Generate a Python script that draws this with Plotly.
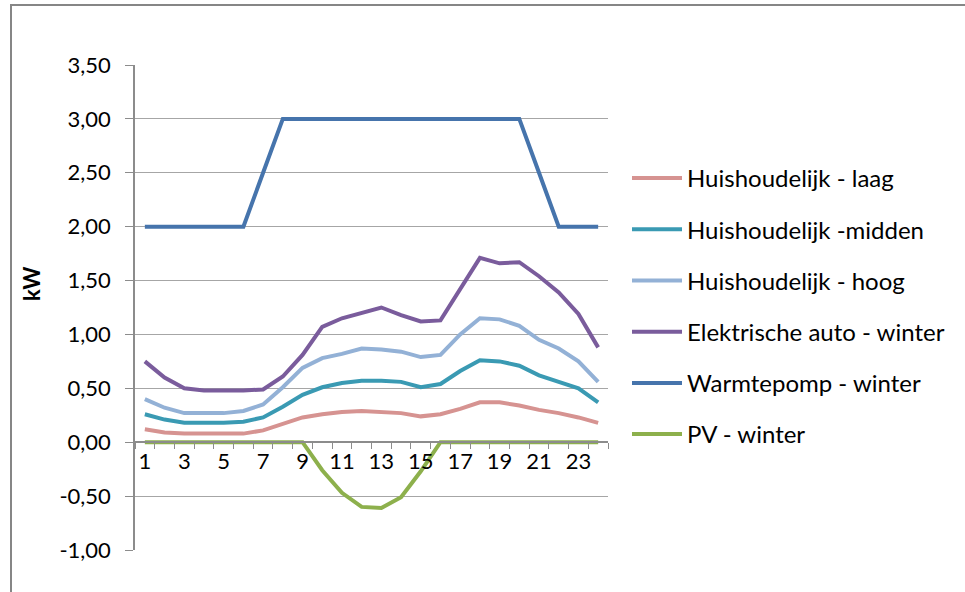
import plotly.graph_objects as go

hours = list(range(1, 25))

laag = [0.12, 0.09, 0.08, 0.08, 0.08, 0.08, 0.11, 0.17, 0.23, 0.26, 0.28, 0.29, 0.28, 0.27, 0.24, 0.26,
        0.31, 0.37, 0.37, 0.34, 0.30, 0.27, 0.23, 0.18]
midden = [0.26, 0.21, 0.18, 0.18, 0.18, 0.19, 0.23, 0.33, 0.44, 0.51, 0.55, 0.57, 0.57, 0.56, 0.51, 0.54,
          0.66, 0.76, 0.75, 0.71, 0.62, 0.56, 0.50, 0.37]
hoog = [0.40, 0.32, 0.27, 0.27, 0.27, 0.29, 0.35, 0.51, 0.69, 0.78, 0.82, 0.87, 0.86, 0.84, 0.79, 0.81,
        1.00, 1.15, 1.14, 1.08, 0.95, 0.87, 0.75, 0.56]
auto = [0.75, 0.60, 0.50, 0.48, 0.48, 0.48, 0.49, 0.61, 0.81, 1.07, 1.15, 1.20, 1.25, 1.18, 1.12, 1.13,
        1.42, 1.71, 1.66, 1.67, 1.54, 1.39, 1.19, 0.88]
warmtepomp = [2.0, 2.0, 2.0, 2.0, 2.0, 2.0, 2.5, 3.0, 3.0, 3.0, 3.0, 3.0, 3.0, 3.0, 3.0, 3.0,
              3.0, 3.0, 3.0, 3.0, 2.5, 2.0, 2.0, 2.0]
pv = [0, 0, 0, 0, 0, 0, 0, 0, 0, -0.26, -0.47, -0.60, -0.61, -0.51, -0.27, 0,
      0, 0, 0, 0, 0, 0, 0, 0]

series_names = ["Huishoudelijk - laag", "Huishoudelijk -midden", "Huishoudelijk - hoog",
                "Elektrische auto - winter", "Warmtepomp - winter", "PV - winter"]
series_values = [laag, midden, hoog, auto, warmtepomp, pv]
series_colors = ["#D69391", "#3A9AB3", "#93B1D6", "#7A5C9C", "#4674AC", "#8DB04C"]

y_tickvals = [-1.0, -0.5, 0.0, 0.5, 1.0, 1.5, 2.0, 2.5, 3.0, 3.5]
y_ticktext = ["-1,00", "-0,50", "0,00", "0,50", "1,00", "1,50", "2,00", "2,50", "3,00", "3,50"]
x_tickvals = [1, 3, 5, 7, 9, 11, 13, 15, 17, 19, 21, 23]

FONT = "Lato"

fig = go.Figure()
for i, (name, vals, col) in enumerate(zip(series_names, series_values, series_colors)):
    fig.add_trace(go.Scatter(x=hours, y=vals, name=name, mode="lines",
                             line=dict(color=col, width=4), legendgroup=f"g{i}"))

# body margin is removed by post_script, so screen px == figure px
W, H = 965, 592
PX0, PX1 = 135, 608     # plot area screen x
PY0, PY1 = 65, 550      # plot area screen y
L = PX0
T = PY0
R = W - PX1
B = H - PY1
pw = PX1 - PX0
ph = PY1 - PY0


def fx(sx):
    return (sx - PX0) / pw


def fy(sy):
    return (PY1 - sy) / ph


fig.update_layout(
    width=W, height=H,
    margin=dict(l=L, r=R, t=T, b=B),
    paper_bgcolor="white", plot_bgcolor="white",
    font=dict(family=FONT, color="#000000", size=22),
    showlegend=True,
    legend=dict(x=fx(627), y=fy(156), xanchor="left", yanchor="top",
                font=dict(size=24, family=FONT), tracegroupgap=17, itemwidth=50,
                bgcolor="rgba(0,0,0,0)"),
    xaxis=dict(range=[0.5, 24.5], tickvals=x_tickvals, ticktext=[str(v) for v in x_tickvals],
               showgrid=False, zeroline=False, showline=True, linecolor="#8C8C8C", linewidth=1.5,
               anchor="free", position=1.0 / 4.5, ticks="outside", ticklen=0,
               minor=dict(tick0=0.5, dtick=1, ticks="outside", ticklen=6, tickcolor="#8C8C8C"),
               tickfont=dict(size=22, family=FONT)),
    yaxis=dict(range=[-1.0, 3.5], tickvals=y_tickvals, ticktext=y_ticktext,
               showgrid=True, gridcolor="#A6A6A6", gridwidth=1.2, zeroline=False,
               showline=True, linecolor="#8C8C8C", linewidth=1.5,
               ticks="outside", ticklen=8, tickcolor="#8C8C8C", ticklabelstandoff=10,
               tickfont=dict(size=22, family=FONT)),
)

fig.add_annotation(text="<b>kW</b>", xref="paper", yref="paper",
                   x=fx(31), y=fy(284), xanchor="center", yanchor="middle",
                   textangle=-90, showarrow=False,
                   font=dict(size=22, family=FONT, color="#000000"))

# chart outer frame
fig.add_shape(type="rect", xref="paper", yref="paper",
              x0=fx(11), x1=fx(990), y0=fy(610), y1=fy(5),
              line=dict(color="#868686", width=2), fillcolor="rgba(0,0,0,0)", layer="below")

fig.write_html("out.html", config={"displayModeBar": False},
               post_script="document.body.style.margin='0';document.body.style.overflow='hidden';")
